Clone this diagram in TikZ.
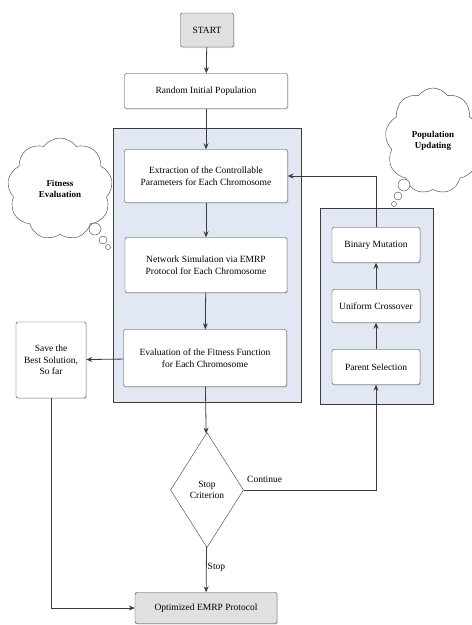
\documentclass[tikz,border=0pt]{standalone}
\usepackage{fontspec}
\setmainfont{Liberation Serif}
\usetikzlibrary{shapes.geometric,shapes.symbols,shadows,arrows.meta}
\definecolor{panelblue}{RGB}{226,232,243}
\definecolor{termgray}{RGB}{224,224,224}
\definecolor{edgegray}{RGB}{60,60,60}
\begin{document}
\begin{tikzpicture}[x=1pt, y=-1pt, >={Stealth[length=6pt,width=5pt]},
  every node/.style={font=\fontsize{9.5}{11.5}\selectfont},
  stepbox/.style={draw=edgegray, fill=white, rounded corners=2pt, align=center, inner sep=2pt,
    drop shadow={shadow xshift=1pt, shadow yshift=-1pt, opacity=0.25}},
  termbox/.style={stepbox, fill=termgray},
  panel/.style={draw=edgegray, line width=0.9pt, fill=panelblue},
  thought/.style={cloud, cloud puffs=9, cloud puff arc=110, aspect=1, draw=edgegray, fill=white,
    align=center, inner sep=0pt, font=\fontsize{9}{11}\selectfont\bfseries},
  decision/.style={diamond, draw=edgegray, fill=white, align=center, inner sep=0pt},
  flow/.style={->, draw=edgegray, thick},
  tag/.style={inner sep=1pt}]
\useasboundingbox (0,0) rectangle (472,625);
% panels
\draw[panel] (113,128) rectangle (301,402);
\draw[panel] (320,208) rectangle (433,404);
% main column
\node[termbox, minimum width=53pt, minimum height=34pt] (start) at (207,30) {START};
\node[stepbox, minimum width=163pt, minimum height=35pt] (init) at (206,91) {Random Initial Population};
\node[stepbox, minimum width=163pt, minimum height=53pt] (extract) at (206,176) {Extraction of the Controllable\\Parameters for Each Chromosome};
\node[stepbox, minimum width=162pt, minimum height=55pt] (netsim) at (206,265) {Network Simulation via EMRP\\Protocol for Each Chromosome};
\node[stepbox, minimum width=163pt, minimum height=57pt] (evalfit) at (205,358) {Evaluation of the Fitness Function\\for Each Chromosome};
\node[stepbox, minimum width=70pt, minimum height=76pt] (save) at (51,360) {Save the\\Best Solution,\\So far};
\node[decision, minimum width=73pt, minimum height=115pt] (crit) at (207,490) {Stop\\Criterion};
\node[termbox, minimum width=142pt, minimum height=31pt] (opt) at (206,608) {Optimized EMRP Protocol};
% update column
\node[stepbox, minimum width=88pt, minimum height=35pt] (mutate) at (376,245) {Binary Mutation};
\node[stepbox, minimum width=88pt, minimum height=33pt] (cross) at (376,306) {Uniform Crossover};
\node[stepbox, minimum width=88pt, minimum height=35pt] (select) at (376,367) {Parent Selection};
% thoughts
\node[thought, minimum width=105pt, minimum height=102pt] (fitcloud) at (60,189) {Fitness\\Evaluation};
\draw[edgegray, fill=white] (95,229) circle (6) (103,240) circle (4) (108,247) circle (2.5);
\node[thought, minimum width=96pt, minimum height=106pt] (popcloud) at (433,141) {Population\\Updating};
\draw[edgegray, fill=white] (404,185) circle (6) (398,196) circle (4) (394,204) circle (2.5);
% connectors
\draw[flow] (start) -- (init);
\draw[flow] (init) -- (extract);
\draw[flow] (extract) -- (netsim);
\draw[flow] (netsim) -- (evalfit);
\draw[flow] (evalfit) -- (save);
\draw[flow] (evalfit) -- (crit);
\draw[flow] (crit.east) -| (select.south);
\node[tag, anchor=south west] (conttag) at (246,484) {Continue};
\draw[flow] (select) -- (cross);
\draw[flow] (cross) -- (mutate);
\draw[flow] (mutate.north) |- (extract.east);
\draw[flow] (crit) -- node[tag, right, pos=0.45] (stoptag) {Stop} (opt);
\draw[flow] (save.south) |- (opt.west);
\end{tikzpicture}
\end{document}
